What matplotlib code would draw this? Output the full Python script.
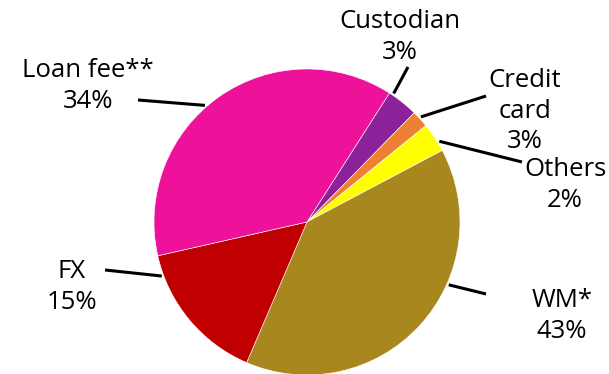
import numpy as np
import matplotlib.pyplot as plt

plt.rcParams['font.family'] = ['Open Sans', 'DejaVu Sans']

# slice sizes (share of 360 deg), clockwise from Custodian
labels = ["Custodian\n3%", "Credit\ncard\n3%", "Others\n2%", "WM*\n43%", "FX\n15%", "Loan fee**\n34%"]
shares = [3.3, 1.8, 3.1, 39.2, 15.0, 37.6]
colors = ["#8B2299", "#EE8033", "#FFFF00", "#A8871E", "#C00000", "#EE119A"]

# leader lines: angle on the rim (deg), outer end and text centre in pixels
rim_angle = [56.0, 42.7, 31.4, -23.9, 200.4, 131.2]
line_end = [(408, 67), (486, 96), (522, 162), (486, 294), (105, 270), (138, 100)]
text_pos = [(400, 37), (525, 111), (565, 185), (562, 316), (72, 287), (88, 86)]

W, H = 609, 374
cx, cy, r = 307, 222, 153

fig = plt.figure(figsize=(W / 100, H / 100), dpi=100)
ax = fig.add_axes([0, 0, 1, 1])

ax.pie(shares, colors=colors, startangle=57.4, counterclock=False,
       center=(cx, H - cy), radius=r, frame=True,
       wedgeprops=dict(linewidth=0.4, edgecolor='white'))
ax.set_xlim(0, W)
ax.set_ylim(0, H)
ax.set_aspect('equal')
ax.axis('off')

for lab, ang, (ex, ey), (tx, ty) in zip(labels, rim_angle, line_end, text_pos):
    a = np.deg2rad(ang)
    sx = cx + (r + 2) * np.cos(a)
    sy = cy - (r + 2) * np.sin(a)
    ax.plot([sx, ex], [H - sy, H - ey], color='black', lw=2.2, solid_capstyle='butt')
    ax.text(tx, H - ty, lab, ha='center', va='center', fontsize=18.5,
            linespacing=1.27, color='black')

fig.savefig('out.png', dpi=100)
